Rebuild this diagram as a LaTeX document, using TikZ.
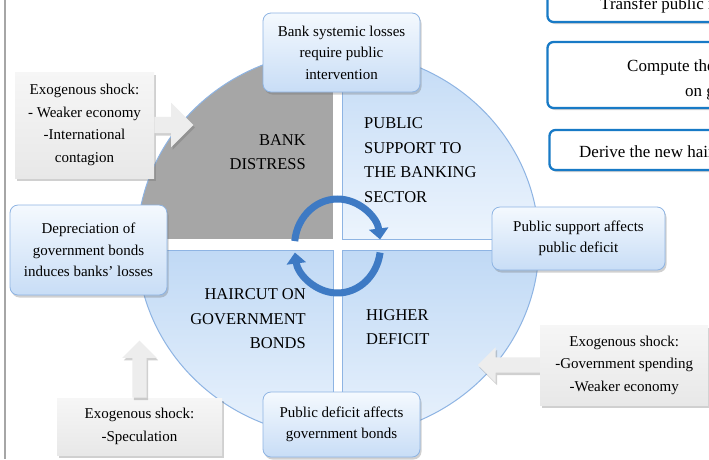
\documentclass[tikz,border=0pt]{standalone}
\usepackage{fontspec}
\setmainfont{Liberation Serif}
\usetikzlibrary{positioning,shapes.arrows,shadows,arrows.meta}

\definecolor{boxedge}{RGB}{142,180,227}
\definecolor{boxtop}{RGB}{244,249,254}
\definecolor{boxbottom}{RGB}{200,221,246}
\definecolor{quadtop}{RGB}{192,217,245}
\definecolor{quadbottom}{RGB}{236,244,253}
\definecolor{quadgray}{RGB}{166,166,166}
\definecolor{shocktop}{RGB}{246,246,246}
\definecolor{shockbottom}{RGB}{232,232,232}
\definecolor{taskblue}{RGB}{24,122,198}
\definecolor{ringblue}{RGB}{62,122,196}

\tikzset{
  softshadow/.style={drop shadow={shadow xshift=1.5pt,shadow yshift=-2.5pt,opacity=0.3,fill=black!60}},
  linkbox/.style={draw=boxedge, line width=0.8pt, rounded corners=8pt, top color=boxtop,
    bottom color=boxbottom, align=center, inner sep=0pt, softshadow,
    font=\fontsize{15}{21.5}\selectfont},
  shockbox/.style={top color=shocktop, bottom color=shockbottom, align=center, inner sep=0pt,
    softshadow, font=\fontsize{15}{22.5}\selectfont},
  shockarrow/.style={single arrow, fill=shockbottom!80!white, inner sep=0pt, minimum width=0pt,
    softshadow, anchor=tail},
  taskbox/.style={draw=taskblue, line width=2.3pt, rounded corners=6pt, fill=white,
    drop shadow={shadow xshift=1.5pt,shadow yshift=-2pt,opacity=0.35}},
  tasktext/.style={inner sep=0pt, anchor=base west, font=\fontsize{17}{25}\selectfont},
  quadlabel/.style={inner sep=0pt, font=\fontsize{16.5}{24.5}\selectfont},
  ring/.style={ringblue, line width=7pt, -{Triangle[width=19pt,length=11pt]}}
}

\begin{document}
\begin{tikzpicture}[x=1pt,y=-1pt]
\useasboundingbox (0,0) rectangle (709,459);
\clip (0,0) rectangle (709,459);
\fill[white] (0,0) rectangle (709,459);
\draw[black!35, line width=2pt] (4.5,0) -- (4.5,459);

% the four quarters of the cycle
\begin{scope}
  \clip (338,244) ellipse [x radius=201, y radius=193];
  \fill[quadgray] (130,40) rectangle (333,239);
  \path[draw=boxedge, top color=quadtop, bottom color=quadbottom] (342,40) rectangle (545,239);
  \path[draw=boxedge, top color=quadtop, bottom color=quadbottom] (130,250) rectangle (333,450);
  \path[draw=boxedge, top color=quadtop, bottom color=quadbottom] (342,250) rectangle (545,450);
\end{scope}
\foreach \xa/\ya/\xb/\yb in {130/40/333/239, 342/40/545/239, 130/250/333/450, 342/250/545/450}{
  \begin{scope}
    \clip (\xa,\ya) rectangle (\xb,\yb);
    \draw[boxedge, line width=1pt] (338,244) ellipse [x radius=201, y radius=193];
  \end{scope}
}

\node[quadlabel, align=right, anchor=east] (distress) at (306,152) {BANK\\DISTRESS};
\node[quadlabel, align=left, anchor=west] (support) at (364,160) {PUBLIC\\SUPPORT TO\\THE BANKING\\SECTOR};
\node[quadlabel, align=right, anchor=east] (haircut) at (306,319) {HAIRCUT ON\\GOVERNMENT\\BONDS};
\node[quadlabel, align=left, anchor=west] (deficit) at (366,327) {HIGHER\\DEFICIT};

% circular arrows in the middle
\draw[ring] (337.5,246) ++(186:43 and 47) arc[start angle=186, end angle=352, x radius=43, y radius=47];
\draw[ring] (337.5,246) ++(8:43 and 47) arc[start angle=8, end angle=172, x radius=43, y radius=47];

% links between the quarters
\node[linkbox, minimum width=157pt, minimum height=79pt] (losses) at (341.5,52.5)
  {Bank systemic losses\\require public\\intervention};
\node[linkbox, minimum width=173pt, minimum height=63pt] (affectdef) at (578.5,238.5)
  {Public support affects\\public deficit};
\node[linkbox, minimum width=157pt, minimum height=65pt] (affectbond) at (341.5,424.5)
  {Public deficit affects\\government bonds};
\node[linkbox, minimum width=157pt, minimum height=90pt] (depreciation) at (88.5,250)
  {Depreciation of\\government bonds\\induces banks’ losses};

% exogenous shocks
\node[shockbox, minimum width=139pt, minimum height=106pt] (shockbank) at (84.5,125)
  {Exogenous shock:\\- Weaker economy\\-International\\contagion};
\node[shockarrow, minimum height=39pt, single arrow head extend=14pt, inner ysep=8pt] (arrbank)
  at (shockbank.east) {};
\node[shockbox, minimum width=165pt, minimum height=57pt] (shockspec) at (139.5,426.5)
  {Exogenous shock:\\-Speculation};
\node[shockarrow, minimum height=57pt, shape border rotate=90, single arrow head extend=10pt,
  inner xsep=7pt, inner ysep=7pt] (arrspec) at (shockspec.north) {};
\coordinate (govedge) at (540,365);
\node[shockarrow, minimum height=62pt, shape border rotate=180, single arrow head extend=10pt,
  inner ysep=7.5pt] (arrgov) at (govedge) {};
\node[shockbox, minimum width=168pt, minimum height=80pt, right=0pt of govedge] (shockgov)
  {Exogenous shock:\\-Government spending\\-Weaker economy};

% steps on the right
\node[taskbox, minimum width=215pt, minimum height=60pt] (transfer) at (655,-8) {};
\node[tasktext] (transfertext) at (600,9) {Transfer public r};
\node[taskbox, minimum width=215pt, minimum height=66pt] (compute) at (655,75) {};
\node[tasktext] (computetext) at (627,71) {Compute the};
\node[tasktext] (computetextb) at (685,96) {on g};
\node[taskbox, minimum width=213pt, minimum height=40pt] (derive) at (656,150) {};
\node[tasktext] (derivetext) at (579,157.5) {Derive the new hair};
\end{tikzpicture}
\end{document}
